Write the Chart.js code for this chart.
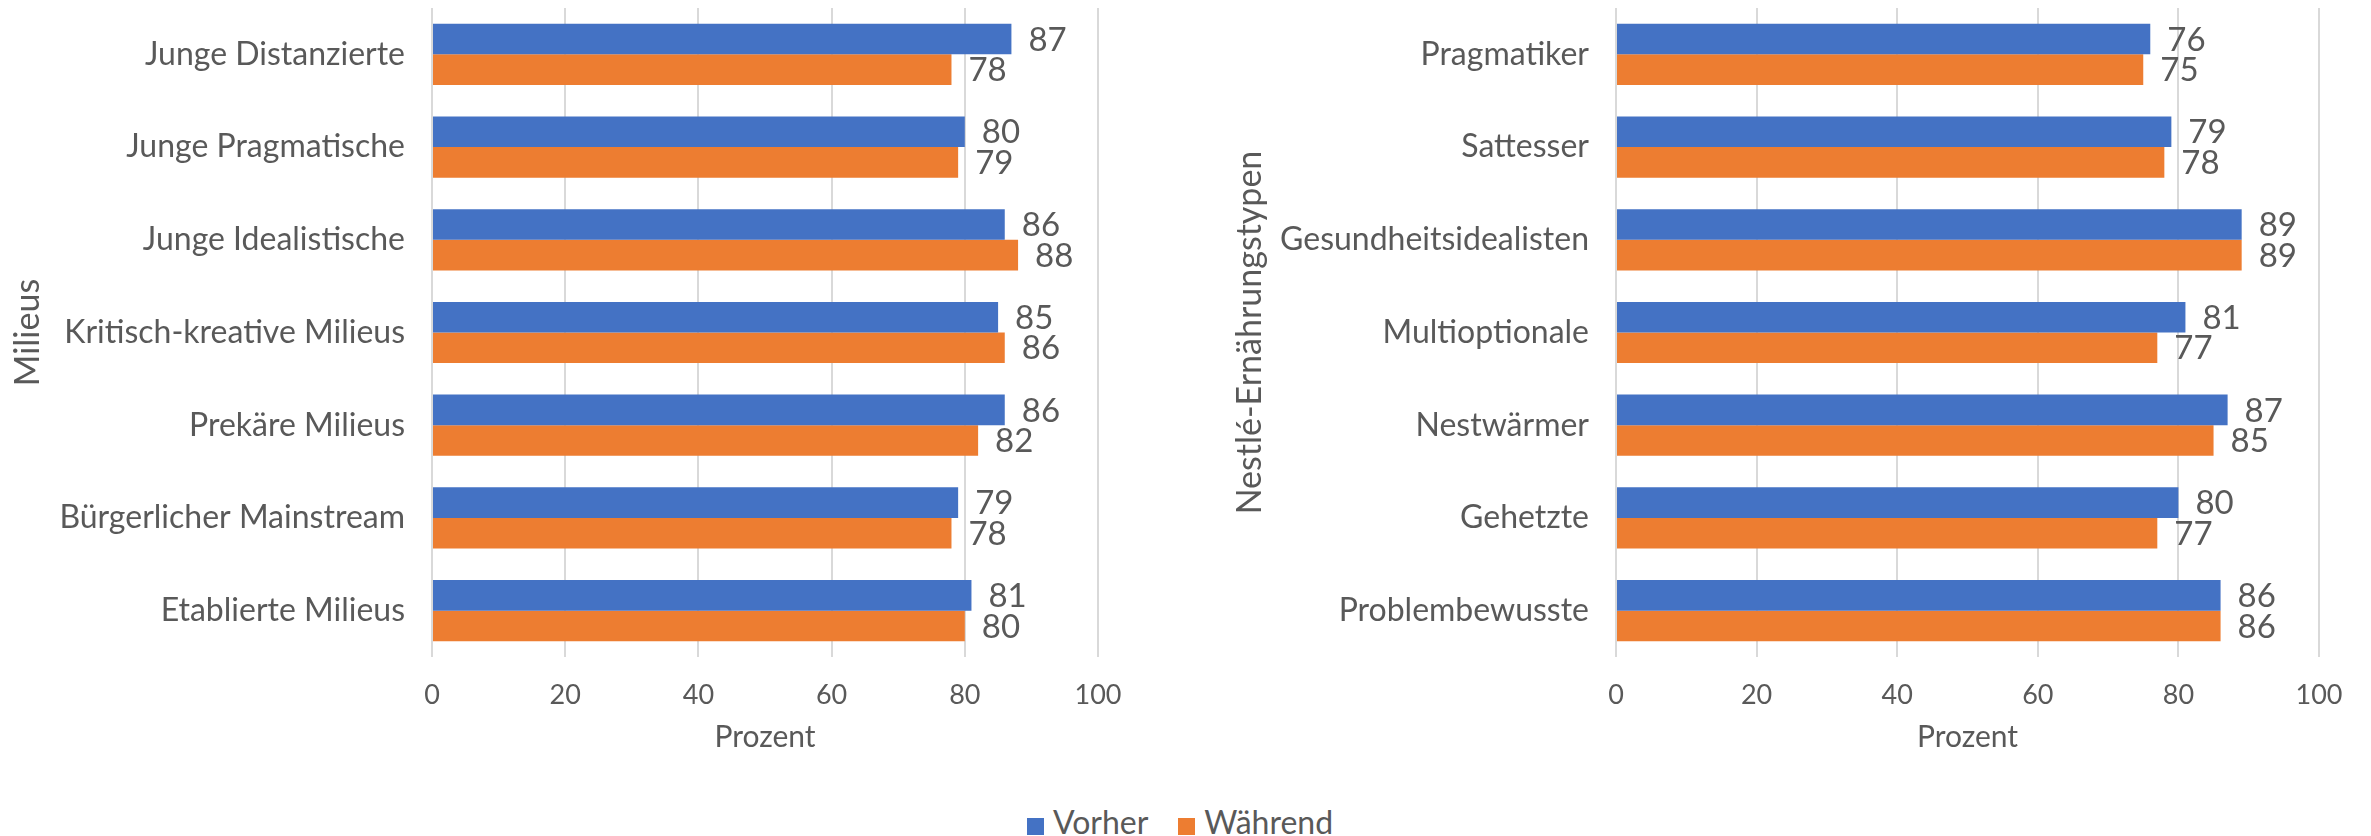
<!DOCTYPE html>
<html>
<head>
<meta charset="utf-8">
<script src="https://cdn.jsdelivr.net/npm/chart.js@4.4.0/dist/chart.umd.min.js"></script>
<style>
  body { margin: 0; background: #fff; width: 2371px; height: 836px; position: relative; overflow: hidden; }
  .box { position: absolute; top: 0; height: 760px; }
  #leftBox { left: 0; width: 1185px; }
  #rightBox { left: 1185px; width: 1186px; }
  #legend { position: absolute; left: 0; width: 2360px; top: 802px; height: 40px; text-align: center;
            font-family: Lato, sans-serif; font-size: 32px; color: #595959; line-height: 40px; }
  #legend span.item { display: inline-block; margin: 0 15px; }
  #legend span.sw { display: inline-block; width: 17px; height: 17px; margin-right: 9px; vertical-align: -1px; }
</style>
</head>
<body>
<div class="box" id="leftBox"><canvas id="left"></canvas></div>
<div class="box" id="rightBox"><canvas id="right"></canvas></div>
<div id="legend"></div>
<script>
const seriesNames = ['Vorher', 'Während'];
const seriesColors = ['#4472C4', '#ED7D31'];

const milieus = ['Junge Distanzierte', 'Junge Pragmatische', 'Junge Idealistische', 'Kritisch-kreative Milieus', 'Prekäre Milieus', 'Bürgerlicher Mainstream', 'Etablierte Milieus'];
const milieuVorher = [87, 80, 86, 85, 86, 79, 81];
const milieuWaehrend = [78, 79, 88, 86, 82, 78, 80];

const typen = ['Pragmatiker', 'Sattesser', 'Gesundheitsidealisten', 'Multioptionale', 'Nestwärmer', 'Gehetzte', 'Problembewusste'];
const typVorher = [76, 79, 89, 81, 87, 80, 86];
const typWaehrend = [75, 78, 89, 77, 85, 77, 86];

const xTicks = [0, 20, 40, 60, 80, 100];

const grey = '#595959';

const valueLabels = {
    id: 'valueLabels',
    afterDatasetsDraw(chart) {
        const ctx = chart.ctx;
        ctx.save();
        ctx.font = '33px Lato';
        ctx.fillStyle = grey;
        ctx.textAlign = 'left';
        ctx.textBaseline = 'middle';
        chart.data.datasets.forEach((ds, i) => {
            chart.getDatasetMeta(i).data.forEach((bar, j) => {
                ctx.fillText(ds.data[j], bar.x + 17, bar.y + 1);
            });
        });
        ctx.restore();
    }
};

function makeChart(id, labels, vorher, waehrend, title, yWidth, titlePad, rightPad) {
    return new Chart(document.getElementById(id), {
        type: 'bar',
        data: {
            labels: labels,
            datasets: [{
                label: seriesNames[0],
                data: vorher,
                backgroundColor: seriesColors[0]
            }, {
                label: seriesNames[1],
                data: waehrend,
                backgroundColor: seriesColors[1]
            }]
        },
        options: {
            indexAxis: 'y',
            responsive: true,
            maintainAspectRatio: false,
            animation: false,
            categoryPercentage: 0.66,
            barPercentage: 1,
            layout: { padding: { top: 8, left: 0, right: rightPad, bottom: 0 } },
            plugins: {
                legend: { display: false },
                tooltip: { enabled: false }
            },
            scales: {
                x: {
                    min: 0,
                    max: 100,
                    afterBuildTicks: s => { s.ticks = xTicks.map(v => ({ value: v })); },
                    afterFit: s => { s.height = 103; s.paddingLeft = 0; s.paddingRight = 0; },
                    grid: { color: '#d9d9d9', lineWidth: 2, drawTicks: false },
                    border: { display: false },
                    ticks: { color: grey, font: { family: 'Lato', size: 27 }, padding: 22 },
                    title: { display: true, text: 'Prozent', color: grey,
                             font: { family: 'Lato', size: 30 }, padding: { top: 0, bottom: 5 } }
                },
                y: {
                    afterFit: s => { s.width = yWidth; s.paddingTop = 0; s.paddingBottom = 0; },
                    grid: { display: false },
                    border: { display: false },
                    ticks: { color: grey, font: { family: 'Lato', size: 32 }, padding: 19 },
                    title: { display: true, text: title, color: grey,
                             font: { family: 'Lato', size: 34 }, padding: { top: titlePad, bottom: 0 } }
                }
            }
        },
        plugins: [valueLabels]
    });
}

makeChart('left', milieus, milieuVorher, milieuWaehrend, 'Milieus', 432, 8, 87);
makeChart('right', typen, typVorher, typWaehrend, 'Nestlé-Ernährungstypen', 431, 45, 52);

const legend = document.getElementById('legend');
seriesNames.forEach((name, i) => {
    const item = document.createElement('span');
    item.className = 'item';
    const sw = document.createElement('span');
    sw.className = 'sw';
    sw.style.background = seriesColors[i];
    item.appendChild(sw);
    item.appendChild(document.createTextNode(name));
    legend.appendChild(item);
});
</script>
</body>
</html>
